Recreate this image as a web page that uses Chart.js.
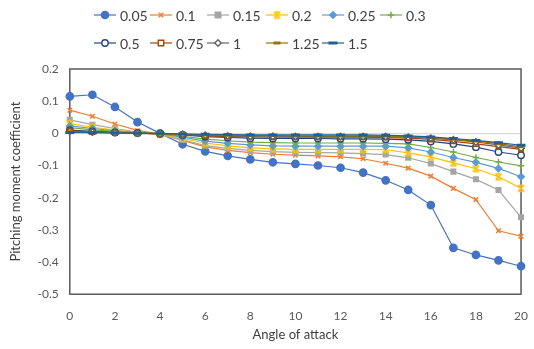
<!DOCTYPE html>
<html>
<head>
<meta charset="utf-8">
<script src="https://cdn.jsdelivr.net/npm/chart.js@4.4.0/dist/chart.umd.min.js"></script>
<style>
html, body { margin: 0; padding: 0; background: #fff; }
#wrap { position: relative; width: 534px; height: 349px; font-family: Lato, sans-serif; }
#chart { position: absolute; left: 0; top: 0; }
.lg { position: absolute; display: flex; align-items: center; font-size: 14px; color: #404040; white-space: nowrap; height: 16px; }
.lg canvas { margin-right: 4px; }
</style>
</head>
<body>
<div id="wrap">
  <canvas id="chart" width="534" height="349"></canvas>
  <div id="legend"></div>
</div>
<script>
// angle of attack
const angles = [0, 1, 2, 3, 4, 5, 6, 7, 8, 9, 10, 11, 12, 13, 14, 15, 16, 17, 18, 19, 20];
const ratios = ['0.05', '0.1', '0.15', '0.2', '0.25', '0.3', '0.5', '0.75', '1', '1.25', '1.5'];
const yTicks = [0.2, 0.1, 0, -0.1, -0.2, -0.3, -0.4, -0.5];

// pitching moment coefficient, one array per series
const cm005 = [0.115, 0.12, 0.082, 0.035, 0, -0.034, -0.056, -0.07, -0.081, -0.09, -0.095, -0.1, -0.107, -0.122, -0.146, -0.176, -0.223, -0.356, -0.378, -0.395, -0.413];
const cm01  = [0.072, 0.053, 0.029, 0.009, -0.002, -0.022, -0.042, -0.053, -0.06, -0.065, -0.068, -0.07, -0.073, -0.079, -0.093, -0.108, -0.133, -0.171, -0.206, -0.303, -0.32];
const cm015 = [0.042, 0.027, 0.015, 0.004, -0.005, -0.02, -0.038, -0.047, -0.053, -0.057, -0.059, -0.06, -0.061, -0.063, -0.066, -0.076, -0.094, -0.119, -0.143, -0.176, -0.261];
const cm02  = [0.03, 0.019, 0.01, 0.003, -0.003, -0.016, -0.03, -0.039, -0.045, -0.048, -0.05, -0.05, -0.05, -0.05, -0.051, -0.061, -0.073, -0.092, -0.11, -0.135, -0.171];
const cm025 = [0.023, 0.015, 0.008, 0.002, -0.002, -0.012, -0.024, -0.031, -0.036, -0.039, -0.04, -0.04, -0.04, -0.04, -0.04, -0.045, -0.058, -0.075, -0.09, -0.109, -0.135];
const cm03  = [0.018, 0.011, 0.006, 0.001, -0.002, -0.009, -0.018, -0.023, -0.027, -0.029, -0.03, -0.03, -0.03, -0.03, -0.031, -0.033, -0.044, -0.058, -0.075, -0.089, -0.101];
const cm05  = [0.01, 0.006, 0.003, 0.001, -0.001, -0.005, -0.01, -0.013, -0.015, -0.016, -0.016, -0.016, -0.017, -0.017, -0.018, -0.02, -0.025, -0.033, -0.043, -0.058, -0.068];
const cm075 = [0.008, 0.005, 0.002, 0, -0.001, -0.004, -0.008, -0.01, -0.011, -0.012, -0.012, -0.012, -0.012, -0.012, -0.013, -0.015, -0.019, -0.025, -0.033, -0.041, -0.05];
const cm1   = [0.006, 0.004, 0.002, 0, -0.001, -0.003, -0.006, -0.008, -0.009, -0.009, -0.01, -0.01, -0.01, -0.01, -0.01, -0.012, -0.015, -0.02, -0.027, -0.036, -0.046];
const cm125 = [0.005, 0.003, 0.001, 0, -0.001, -0.002, -0.005, -0.006, -0.007, -0.007, -0.008, -0.008, -0.008, -0.008, -0.008, -0.01, -0.013, -0.018, -0.024, -0.032, -0.042];
const cm15  = [0.003, 0.002, 0.001, 0, 0, -0.002, -0.003, -0.004, -0.005, -0.005, -0.005, -0.005, -0.005, -0.005, -0.006, -0.008, -0.011, -0.016, -0.022, -0.029, -0.037];
const series = [cm005, cm01, cm015, cm02, cm025, cm03, cm05, cm075, cm1, cm125, cm15];

// styling
const colors = ['#4472C4', '#ED7D31', '#A5A5A5', '#FFC000', '#5B9BD5', '#70AD47', '#264478', '#9E480E', '#636363', '#997300', '#255E91'];
const markers = ['circle', 'crossRot', 'rect', 'hourglass', 'rectRot', 'cross', 'circle', 'rect', 'rectRot', 'line', 'line'];
const hollow = [false, false, false, false, false, false, true, true, true, false, false];
const legendCols = [94, 150, 207, 266, 322, 380];
const legendRows = [7, 35];

const hourglass = (color) => {
  const c = document.createElement('canvas')
  c.width = 9; c.height = 9
  const g = c.getContext('2d')
  g.strokeStyle = color; g.lineWidth = 1.6
  g.beginPath()
  g.moveTo(1.5, 1.5); g.lineTo(7.5, 7.5)
  g.moveTo(7.5, 1.5); g.lineTo(1.5, 7.5)
  g.moveTo(1.5, 1.5); g.lineTo(7.5, 1.5)
  g.moveTo(1.5, 7.5); g.lineTo(7.5, 7.5)
  g.stroke()
  return c
}
const starImg = hourglass(colors[3])

const pointStyleFor = (i) => markers[i] === 'hourglass' ? starImg : markers[i]
const radiusFor = (i) => i === 0 ? 3.6 : (markers[i] === 'line' ? (i === 10 ? 4.5 : 3.5) : 3.2)
const borderFor = (i) => markers[i] === 'line' ? 3 : (hollow[i] ? 1.4 : 1.5)

// legend sample: short line with the marker in the middle
const drawSample = (i) => {
  const c = document.createElement('canvas')
  c.width = 22; c.height = 12
  const g = c.getContext('2d')
  g.strokeStyle = colors[i]; g.lineWidth = 1.2
  g.beginPath(); g.moveTo(0, 6); g.lineTo(22, 6); g.stroke()
  const r = radiusFor(i), x = 11, y = 6
  g.fillStyle = hollow[i] ? '#fff' : colors[i]
  g.strokeStyle = colors[i]
  g.lineWidth = borderFor(i)
  const m = markers[i]
  g.beginPath()
  if (m === 'circle') { g.arc(x, y, r, 0, Math.PI * 2); g.fill(); g.stroke() }
  else if (m === 'rect') { g.rect(x - r * 0.85, y - r * 0.85, r * 1.7, r * 1.7); g.fill(); g.stroke() }
  else if (m === 'rectRot') { g.moveTo(x, y - r); g.lineTo(x + r, y); g.lineTo(x, y + r); g.lineTo(x - r, y); g.closePath(); g.fill(); g.stroke() }
  else if (m === 'crossRot') { g.moveTo(x - r * 0.7, y - r * 0.7); g.lineTo(x + r * 0.7, y + r * 0.7); g.moveTo(x + r * 0.7, y - r * 0.7); g.lineTo(x - r * 0.7, y + r * 0.7); g.stroke() }
  else if (m === 'cross') { g.moveTo(x - r, y); g.lineTo(x + r, y); g.moveTo(x, y - r); g.lineTo(x, y + r); g.stroke() }
  else if (m === 'line') { g.moveTo(x - r, y); g.lineTo(x + r, y); g.stroke() }
  else if (m === 'hourglass') { g.drawImage(starImg, x - 4.5, y - 4.5) }
  return c
}

const legend = document.getElementById('legend')
ratios.forEach((name, i) => {
  const item = document.createElement('div')
  item.className = 'lg'
  item.style.left = legendCols[i % 6] + 'px'
  item.style.top = legendRows[Math.floor(i / 6)] + 'px'
  item.appendChild(drawSample(i))
  const span = document.createElement('span')
  span.textContent = name
  item.appendChild(span)
  legend.appendChild(item)
})

const datasets = ratios.map((name, i) => ({
  label: name,
  data: angles.map((a, k) => ({ x: a, y: series[i][k] })),
  borderColor: colors[i],
  backgroundColor: hollow[i] ? '#ffffff' : colors[i],
  pointBorderColor: colors[i],
  pointBackgroundColor: hollow[i] ? '#ffffff' : colors[i],
  borderWidth: 1.2,
  pointStyle: pointStyleFor(i),
  pointRadius: radiusFor(i),
  pointBorderWidth: borderFor(i),
  tension: 0,
  clip: 8,
  order: ratios.length - i
}))

const frame = {
  id: 'frame',
  beforeDatasetsDraw(chart) {
    const { ctx, chartArea: a } = chart
    ctx.save()
    ctx.strokeStyle = '#595959'
    ctx.lineWidth = 1.5
    ctx.strokeRect(a.left, a.top, a.right - a.left, a.bottom - a.top)
    ctx.restore()
  }
}

const tickFont = { family: 'Lato', size: 12 }
const titleFont = { family: 'Lato', size: 13 }

new Chart(document.getElementById('chart'), {
  type: 'line',
  data: { datasets },
  plugins: [frame],
  options: {
    responsive: false,
    animation: false,
    layout: { padding: { top: 69, right: 0, bottom: 6, left: 8 } },
    plugins: { legend: { display: false }, tooltip: { enabled: false } },
    scales: {
      x: {
        type: 'linear', min: 0, max: 20,
        ticks: { stepSize: 2, color: '#595959', font: { family: 'Lato', size: 12, lineHeight: 2.6 }, padding: 6, maxRotation: 0 },
        grid: { display: false, drawTicks: false },
        border: { display: false },
        title: { display: true, text: 'Angle of attack', color: '#404040', font: titleFont, padding: { top: -10, bottom: 0 } }
      },
      y: {
        min: -0.5, max: 0.2,
        afterBuildTicks: (axis) => { axis.ticks = yTicks.map(v => ({ value: v })) },
        ticks: { color: '#595959', font: tickFont, padding: 11, callback: (v) => String(Math.round(v * 10) / 10) },
        grid: { drawTicks: false, color: (c) => (c.tick && c.tick.value === 0) ? '#d9d9d9' : 'rgba(0,0,0,0)', lineWidth: 1.2 },
        border: { display: false },
        title: { display: true, text: 'Pitching moment coefficient', color: '#404040', font: titleFont, padding: { top: 0, bottom: 3 } }
      }
    }
  }
})
</script>
</body>
</html>
